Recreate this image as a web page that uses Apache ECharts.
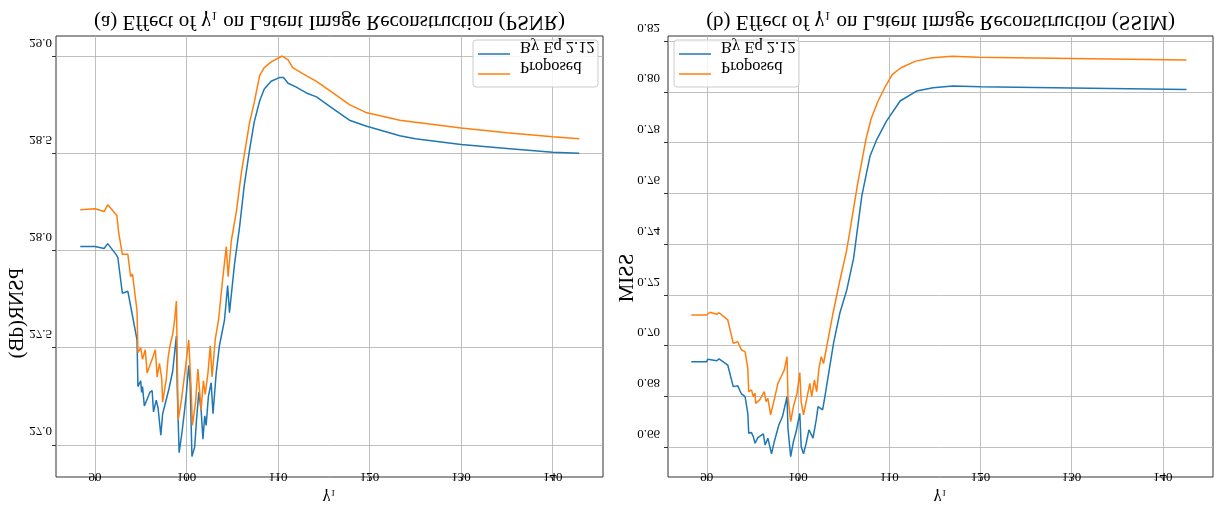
<!DOCTYPE html>
<html lang="en">
<head>
  <meta charset="UTF-8">
  <title>Effect of gamma1 on latent image reconstruction</title>
  <style>
    html, body { margin: 0; padding: 0; background: #fff; }
    #main { width: 1214px; height: 506px; }
  </style>
</head>
<body>
  <div id="main"></div>

  <script src="https://cdn.jsdelivr.net/npm/echarts@6/dist/echarts.min.js"></script>
  <script>
    // [γ1, PSNR]
    var psnrEq = [[88.4,28.02],[90,28.02],[91.0,28.01],[91.4,28.035],[92.3,27.98],[92.5,27.965],[93.0,27.78],[93.6,27.79],[94.0,27.69],[94.2,27.69],[94.6,27.54],[94.7,27.30],[95.0,27.33],[95.1,27.27],[95.2,27.30],[95.4,27.20],[96.0,27.27],[96.25,27.28],[96.4,27.17],[96.7,27.23],[96.9,27.19],[97.2,27.05],[97.4,27.16],[98.1,27.29],[98.5,27.38],[98.9,27.56],[99.0,27.28],[99.2,26.96],[99.5,27.06],[99.8,27.18],[100.0,27.27],[100.25,27.41],[100.4,27.32],[100.6,26.94],[100.9,26.99],[101.1,27.13],[101.35,27.27],[101.6,27.18],[101.8,27.03],[102.0,27.15],[102.15,27.10],[102.4,27.25],[102.7,27.32],[102.9,27.16],[103.25,27.37],[103.6,27.51],[104.15,27.64],[104.5,27.82],[104.7,27.68],[105.25,27.93],[105.8,28.12],[106.3,28.33],[106.9,28.52],[107.4,28.66],[108.0,28.77],[108.5,28.83],[109.25,28.87],[110.2,28.89],[110.6,28.89],[111.1,28.86],[112.0,28.84],[113.1,28.81],[114.2,28.79],[116.0,28.73],[117.8,28.67],[119.6,28.64],[123.3,28.59],[125,28.575],[130,28.545],[135,28.525],[140,28.505],[142.9,28.50]];
    var psnrProposed = [[88.4,28.21],[90,28.215],[91.0,28.20],[91.4,28.235],[92.4,28.18],[92.6,28.09],[93.0,27.98],[93.6,27.98],[93.9,27.865],[94.1,27.88],[94.6,27.69],[94.7,27.475],[95.0,27.50],[95.2,27.44],[95.5,27.49],[95.7,27.37],[96.25,27.44],[96.6,27.49],[96.8,27.35],[97.05,27.42],[97.3,27.34],[97.4,27.22],[97.8,27.34],[98.0,27.45],[98.2,27.51],[98.5,27.57],[98.7,27.64],[98.9,27.74],[99.1,27.13],[99.45,27.23],[99.9,27.40],[100.25,27.54],[100.5,27.30],[100.65,27.10],[101.0,27.22],[101.25,27.39],[101.4,27.30],[101.6,27.18],[101.85,27.33],[102.05,27.26],[102.35,27.37],[102.6,27.51],[102.8,27.35],[103.15,27.545],[103.5,27.64],[103.95,27.85],[104.35,28.02],[104.55,27.865],[104.9,28.05],[105.45,28.20],[106.0,28.40],[106.9,28.66],[107.4,28.76],[108.0,28.90],[108.5,28.94],[109.25,28.97],[110.45,29.0],[111.1,28.98],[111.6,28.94],[112.7,28.91],[114.2,28.87],[116.0,28.81],[117.8,28.75],[119.6,28.71],[123.3,28.67],[130,28.63],[135,28.605],[140,28.585],[142.9,28.575]];

    // [γ1, SSIM]
    var ssimEq = [[88.3,0.6937],[90,0.6937],[90.1,0.6947],[91.1,0.6941],[91.35,0.6948],[92.3,0.6924],[92.9,0.6839],[93.4,0.6842],[93.8,0.6810],[94.2,0.6800],[94.5,0.6734],[94.6,0.6655],[94.9,0.6658],[95.1,0.6642],[95.3,0.6616],[95.6,0.6638],[96.2,0.6653],[96.4,0.6609],[96.7,0.6636],[97.1,0.6574],[97.4,0.6622],[97.9,0.6688],[98.3,0.6721],[98.8,0.6800],[98.9,0.6675],[99.2,0.6563],[99.5,0.6622],[99.8,0.6662],[100.2,0.6734],[100.35,0.6603],[100.6,0.6574],[100.9,0.6616],[101.2,0.6669],[101.65,0.6636],[102.0,0.6708],[102.2,0.6760],[102.7,0.6747],[102.95,0.6800],[103.9,0.7010],[104.6,0.7130],[105.35,0.7220],[106.1,0.7345],[107.0,0.7590],[107.9,0.7747],[108.65,0.7813],[109.7,0.7885],[111.2,0.7964],[113.0,0.8003],[114.8,0.8016],[117.0,0.8023],[120.0,0.8020],[130,0.8015],[142.6,0.8009]];
    var ssimProposed = [[88.3,0.7121],[90,0.7121],[90.35,0.7132],[91.1,0.7124],[91.35,0.7130],[92.3,0.7102],[92.9,0.7010],[93.4,0.7016],[93.8,0.6983],[94.2,0.6977],[94.5,0.6911],[94.6,0.6819],[94.9,0.6826],[95.1,0.6800],[95.3,0.6813],[95.35,0.6773],[95.8,0.6787],[96.3,0.6819],[96.5,0.6780],[96.7,0.6793],[97.0,0.6728],[97.35,0.6780],[97.8,0.6852],[98.15,0.6878],[98.5,0.6905],[98.8,0.6957],[98.9,0.6800],[99.2,0.6701],[99.5,0.6760],[99.9,0.6813],[100.2,0.6894],[100.35,0.6780],[100.6,0.6728],[100.9,0.6780],[101.3,0.6852],[101.5,0.6800],[101.8,0.6865],[102.05,0.6819],[102.3,0.6911],[102.55,0.6957],[102.8,0.6930],[103.8,0.7121],[104.55,0.7250],[105.3,0.7370],[105.6,0.7432],[106.5,0.7630],[107.45,0.7813],[108.0,0.7892],[108.7,0.7957],[109.6,0.8023],[110.35,0.8069],[111.3,0.8095],[112.9,0.8121],[114.75,0.8134],[116.9,0.8140],[119.8,0.8136],[130,0.8131],[142.6,0.8125]];

    var gammaTicks = [90, 100, 110, 120, 130, 140];
    var psnrTicks = [27.0, 27.5, 28.0, 28.5, 29.0];
    var ssimTicks = [0.66, 0.68, 0.70, 0.72, 0.74, 0.76, 0.78, 0.80, 0.82];

    var seriesNames = ['By Eq 2.12', 'Proposed'];
    var colors = ['#1f77b4', '#ff7f0e'];
    var titles = ['(a) Effect of γ₁ on Latent Image Reconstruction (PSNR)', '(b) Effect of γ₁ on Latent Image Reconstruction (SSIM)'];
    var yNames = ['PSNR(dB)', 'SSIM'];
    var xName = 'γ₁';

    var FONT = '"Liberation Serif", "DejaVu Serif", serif';

    var myChart = echarts.init(document.getElementById('main'));

    function xAxisFor(i) {
      return {
        gridIndex: i, type: 'value', min: 85.75, max: 145.5,
        axisLine: { show: false },
        axisTick: { show: true, length: 4, customValues: gammaTicks, lineStyle: { color: '#333', width: 1 } },
        axisLabel: { show: false },
        splitLine: { show: true, lineStyle: { color: '#b0b0b0', width: 0.8 } }
      };
    }
    function yAxisFor(i, min, max, ticks, split) {
      return {
        gridIndex: i, type: 'value', min: min, max: max, splitNumber: split,
        axisLine: { show: false },
        axisTick: { show: true, length: 4, customValues: ticks, lineStyle: { color: '#333', width: 1 } },
        axisLabel: { show: false },
        splitLine: { show: true, lineStyle: { color: '#b0b0b0', width: 0.8 } }
      };
    }
    function line(name, data, i, color) {
      return {
        name: name, type: 'line', xAxisIndex: i, yAxisIndex: i,
        data: data, showSymbol: false, symbol: 'none',
        lineStyle: { color: color, width: 1.5 }, itemStyle: { color: color }
      };
    }

    var option = {
      animation: false,
      backgroundColor: '#fff',
      grid: [
        { left: 56, top: 36, width: 547, height: 441, show: true, borderColor: '#333', borderWidth: 1 },
        { left: 668, top: 36, width: 545, height: 441, show: true, borderColor: '#333', borderWidth: 1 }
      ],
      xAxis: [xAxisFor(0), xAxisFor(1)],
      yAxis: [
        yAxisFor(0, 26.835, 29.103, psnrTicks, 5),
        yAxisFor(1, 0.6483, 0.822, ssimTicks, 8)
      ],
      series: [
        line(seriesNames[0], psnrEq, 0, colors[0]),
        line(seriesNames[1], psnrProposed, 0, colors[1]),
        line(seriesNames[0], ssimEq, 1, colors[0]),
        line(seriesNames[1], ssimProposed, 1, colors[1])
      ]
    };
    myChart.setOption(option);

    // all text in the figure is drawn upside down (mirrored vertically)
    function flipText(text, x, y, size, align, rot) {
      return {
        type: 'text', x: x, y: y, scaleY: -1, rotation: rot || 0, z: 100, silent: true,
        style: {
          text: text, font: size + 'px ' + FONT, fill: '#000',
          align: align || 'center', verticalAlign: 'middle'
        }
      };
    }

    var graphics = [];
    var yTicks = [psnrTicks, ssimTicks];
    var labelRight = [52, 660];
    var digits = [1, 2];
    var legendBox = [[473, 40], [674, 40]];

    [0, 1].forEach(function (i) {
      gammaTicks.forEach(function (t) {
        var p = myChart.convertToPixel({ gridIndex: i }, [t, yTicks[i][0]]);
        graphics.push(flipText(String(t), p[0], 476, 13));
      });
      yTicks[i].forEach(function (t) {
        var p = myChart.convertToPixel({ gridIndex: i }, [gammaTicks[0], t]);
        graphics.push(flipText(t.toFixed(digits[i]), labelRight[i], p[1] - 14, 13, 'right'));
      });
      var left = option.grid[i].left, w = option.grid[i].width;
      graphics.push(flipText(titles[i], left + w / 2, 22, 21));
      graphics.push(flipText(xName, left + w / 2, 497, 17));

      // legend box
      var bx = legendBox[i][0], by = legendBox[i][1];
      graphics.push({
        type: 'rect', z: 99, silent: true,
        shape: { x: bx, y: by, width: 125, height: 47, r: 3 },
        style: { fill: 'rgba(255,255,255,0.85)', stroke: '#cccccc', lineWidth: 1 }
      });
      seriesNames.forEach(function (name, k) {
        var ly = by + 14 + k * 20;
        graphics.push({
          type: 'line', z: 100, silent: true,
          shape: { x1: bx + 5, y1: ly, x2: bx + 37, y2: ly },
          style: { stroke: colors[k], lineWidth: 1.5 }
        });
        graphics.push(flipText(name, bx + 47, ly - 8, 16.5, 'left'));
      });
    });

    graphics.push(flipText(yNames[0], 17, 313, 21, 'center', -Math.PI / 2));
    graphics.push(flipText(yNames[1], 627, 278, 21, 'center', -Math.PI / 2));

    myChart.setOption({ graphic: graphics });
  </script>
</body>
</html>
